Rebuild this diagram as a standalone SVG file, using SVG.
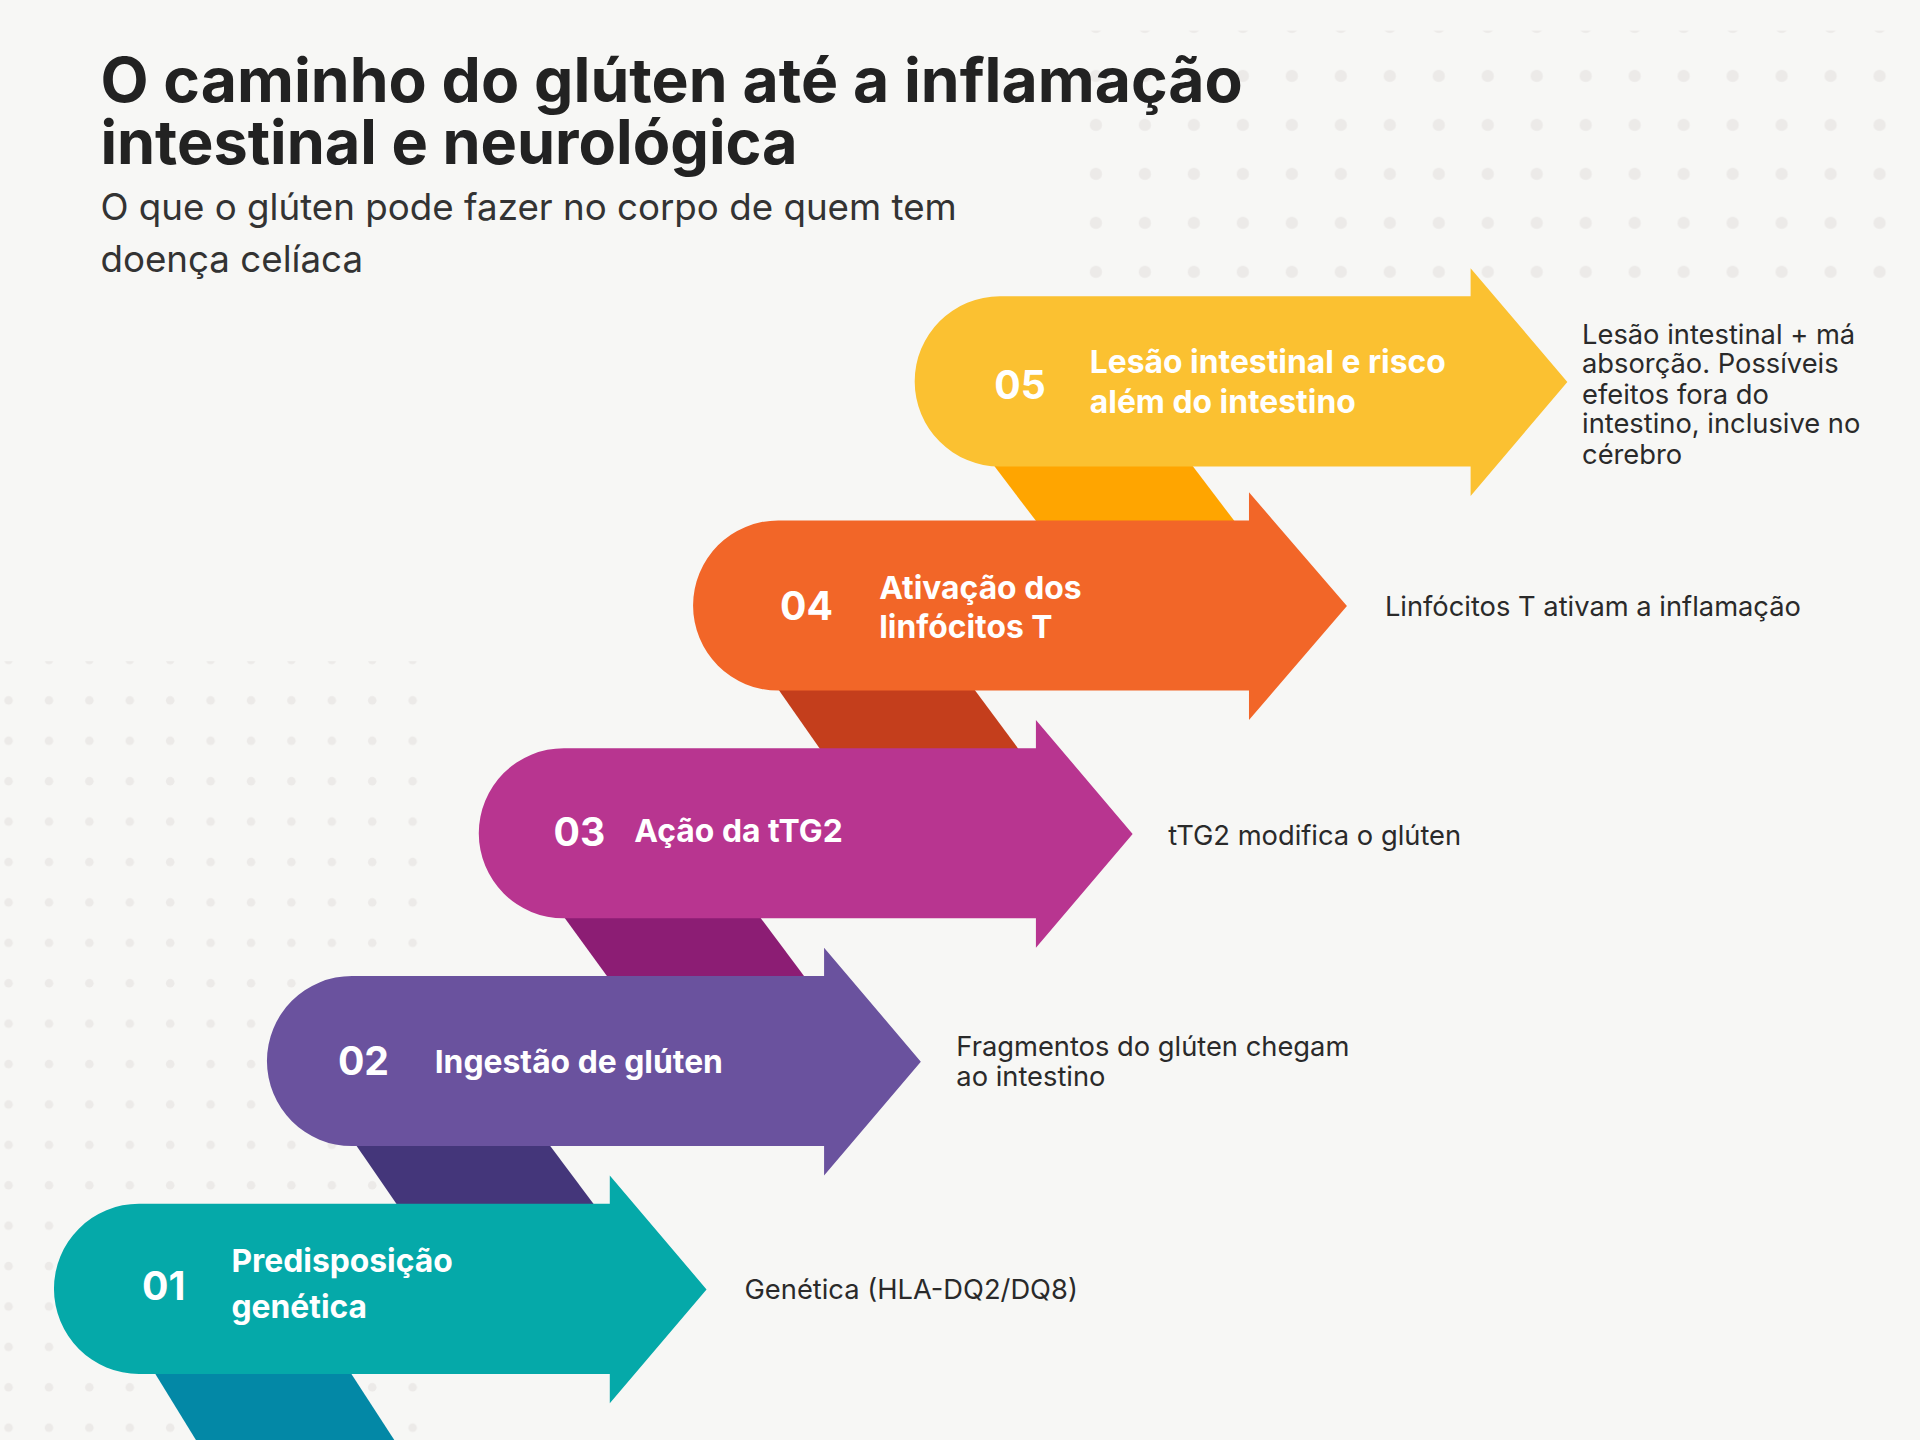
<svg xmlns="http://www.w3.org/2000/svg" width="1920" height="1440" viewBox="0 0 1920 1440">
<defs>
<pattern id="dotsA" x="10" y="17" width="40" height="40" patternUnits="userSpaceOnUse"><circle cx="5" cy="5" r="5" fill="#ECEAE8"/></pattern>
<pattern id="dotsB" x="2" y="6" width="33" height="33" patternUnits="userSpaceOnUse"><circle cx="5" cy="5" r="3.5" fill="#ECEAE8"/></pattern>
<style>
text{font-family:Inter,"Noto Sans","Liberation Sans",sans-serif}
.num{font-size:32px;font-weight:700;fill:#fff}
.lab{font-size:26px;font-weight:700;fill:#fff}
.desc{font-size:22.3px;fill:#2a2a2a}
</style>
</defs>
<rect width="1920" height="1440" fill="#F7F7F5"/>
<g transform="scale(1.22449)">
<rect x="880" y="25" width="688" height="220" fill="url(#dotsA)"/>
<rect x="0" y="540" width="360" height="636" fill="url(#dotsB)"/>
<g id="title">
<text x="82" y="83" font-size="50" font-weight="700" fill="#222" textLength="933" lengthAdjust="spacingAndGlyphs">O caminho do glúten até a inflamação</text>
<text x="82" y="134" font-size="50" font-weight="700" fill="#222">intestinal e neurológica</text>
<text x="82" y="180" font-size="30" fill="#333">O que o glúten pode fazer no corpo de quem tem</text>
<text x="82" y="222" font-size="30" fill="#333">doença celíaca</text>
</g>
<g id="connectors">
<polygon points="810,378 972,378 1010,428 848,428" fill="#FFA500"/>
<polygon points="635,562 795,562 832,612 670,612" fill="#C43E1C"/>
<polygon points="460,748 620,748 658,799 497,799" fill="#8C1D74"/>
<polygon points="290,934 448,934 486,985 325,985" fill="#44367A"/>
<polygon points="125,1119 285,1119 322,1176 160,1176" fill="#0388A6"/>
</g>
<g id="step05">
<path d="M816.5,242 H1201 V219 L1280,312 L1201,405 V381 H816.5 A69.5,69.5 0 0 1 816.5,242 Z" fill="#FBC131"/>
<text class="num" x="812" y="326">05</text>
<text class="lab" x="890" y="305">Lesão intestinal e risco</text>
<text class="lab" x="890" y="337">além do intestino</text>
<text class="desc" x="1292" y="281">Lesão intestinal + má</text>
<text class="desc" x="1292" y="305">absorção. Possíveis</text>
<text class="desc" x="1292" y="330">efeitos fora do</text>
<text class="desc" x="1292" y="354">intestino, inclusive no</text>
<text class="desc" x="1292" y="379">cérebro</text>
</g>
<g id="step04">
<path d="M635.5,425 H1020 V402 L1100,495 L1020,588 V564 H635.5 A69.5,69.5 0 0 1 635.5,425 Z" fill="#F26628"/>
<text class="num" x="637" y="506">04</text>
<text class="lab" x="718" y="489">Ativação dos</text>
<text class="lab" x="718" y="521">linfócitos T</text>
<text class="desc" x="1131" y="503">Linfócitos T ativam a inflamação</text>
</g>
<g id="step03">
<path d="M460.5,611 H846 V588 L925,681 L846,774 V750 H460.5 A69.5,69.5 0 0 1 460.5,611 Z" fill="#B83590"/>
<text class="num" x="452" y="691">03</text>
<text class="lab" x="518" y="688">Ação da tTG2</text>
<text class="desc" x="954" y="690">tTG2 modifica o glúten</text>
</g>
<g id="step02">
<path d="M287.5,797 H673 V774 L752,867 L673,960 V936 H287.5 A69.5,69.5 0 0 1 287.5,797 Z" fill="#6A529E"/>
<text class="num" x="276" y="878">02</text>
<text class="lab" x="355" y="876">Ingestão de glúten</text>
<text class="desc" x="781" y="862">Fragmentos do glúten chegam</text>
<text class="desc" x="781" y="887">ao intestino</text>
</g>
<g id="step01">
<path d="M113.5,983 H498 V960 L577,1053 L498,1146 V1122 H113.5 A69.5,69.5 0 0 1 113.5,983 Z" fill="#05A9A9"/>
<text class="num" x="116" y="1062">01</text>
<text class="lab" x="189" y="1039">Predisposição</text>
<text class="lab" x="189" y="1076">genética</text>
<text class="desc" x="608" y="1061">Genética (HLA-DQ2/DQ8)</text>
</g>
</g>
</svg>
